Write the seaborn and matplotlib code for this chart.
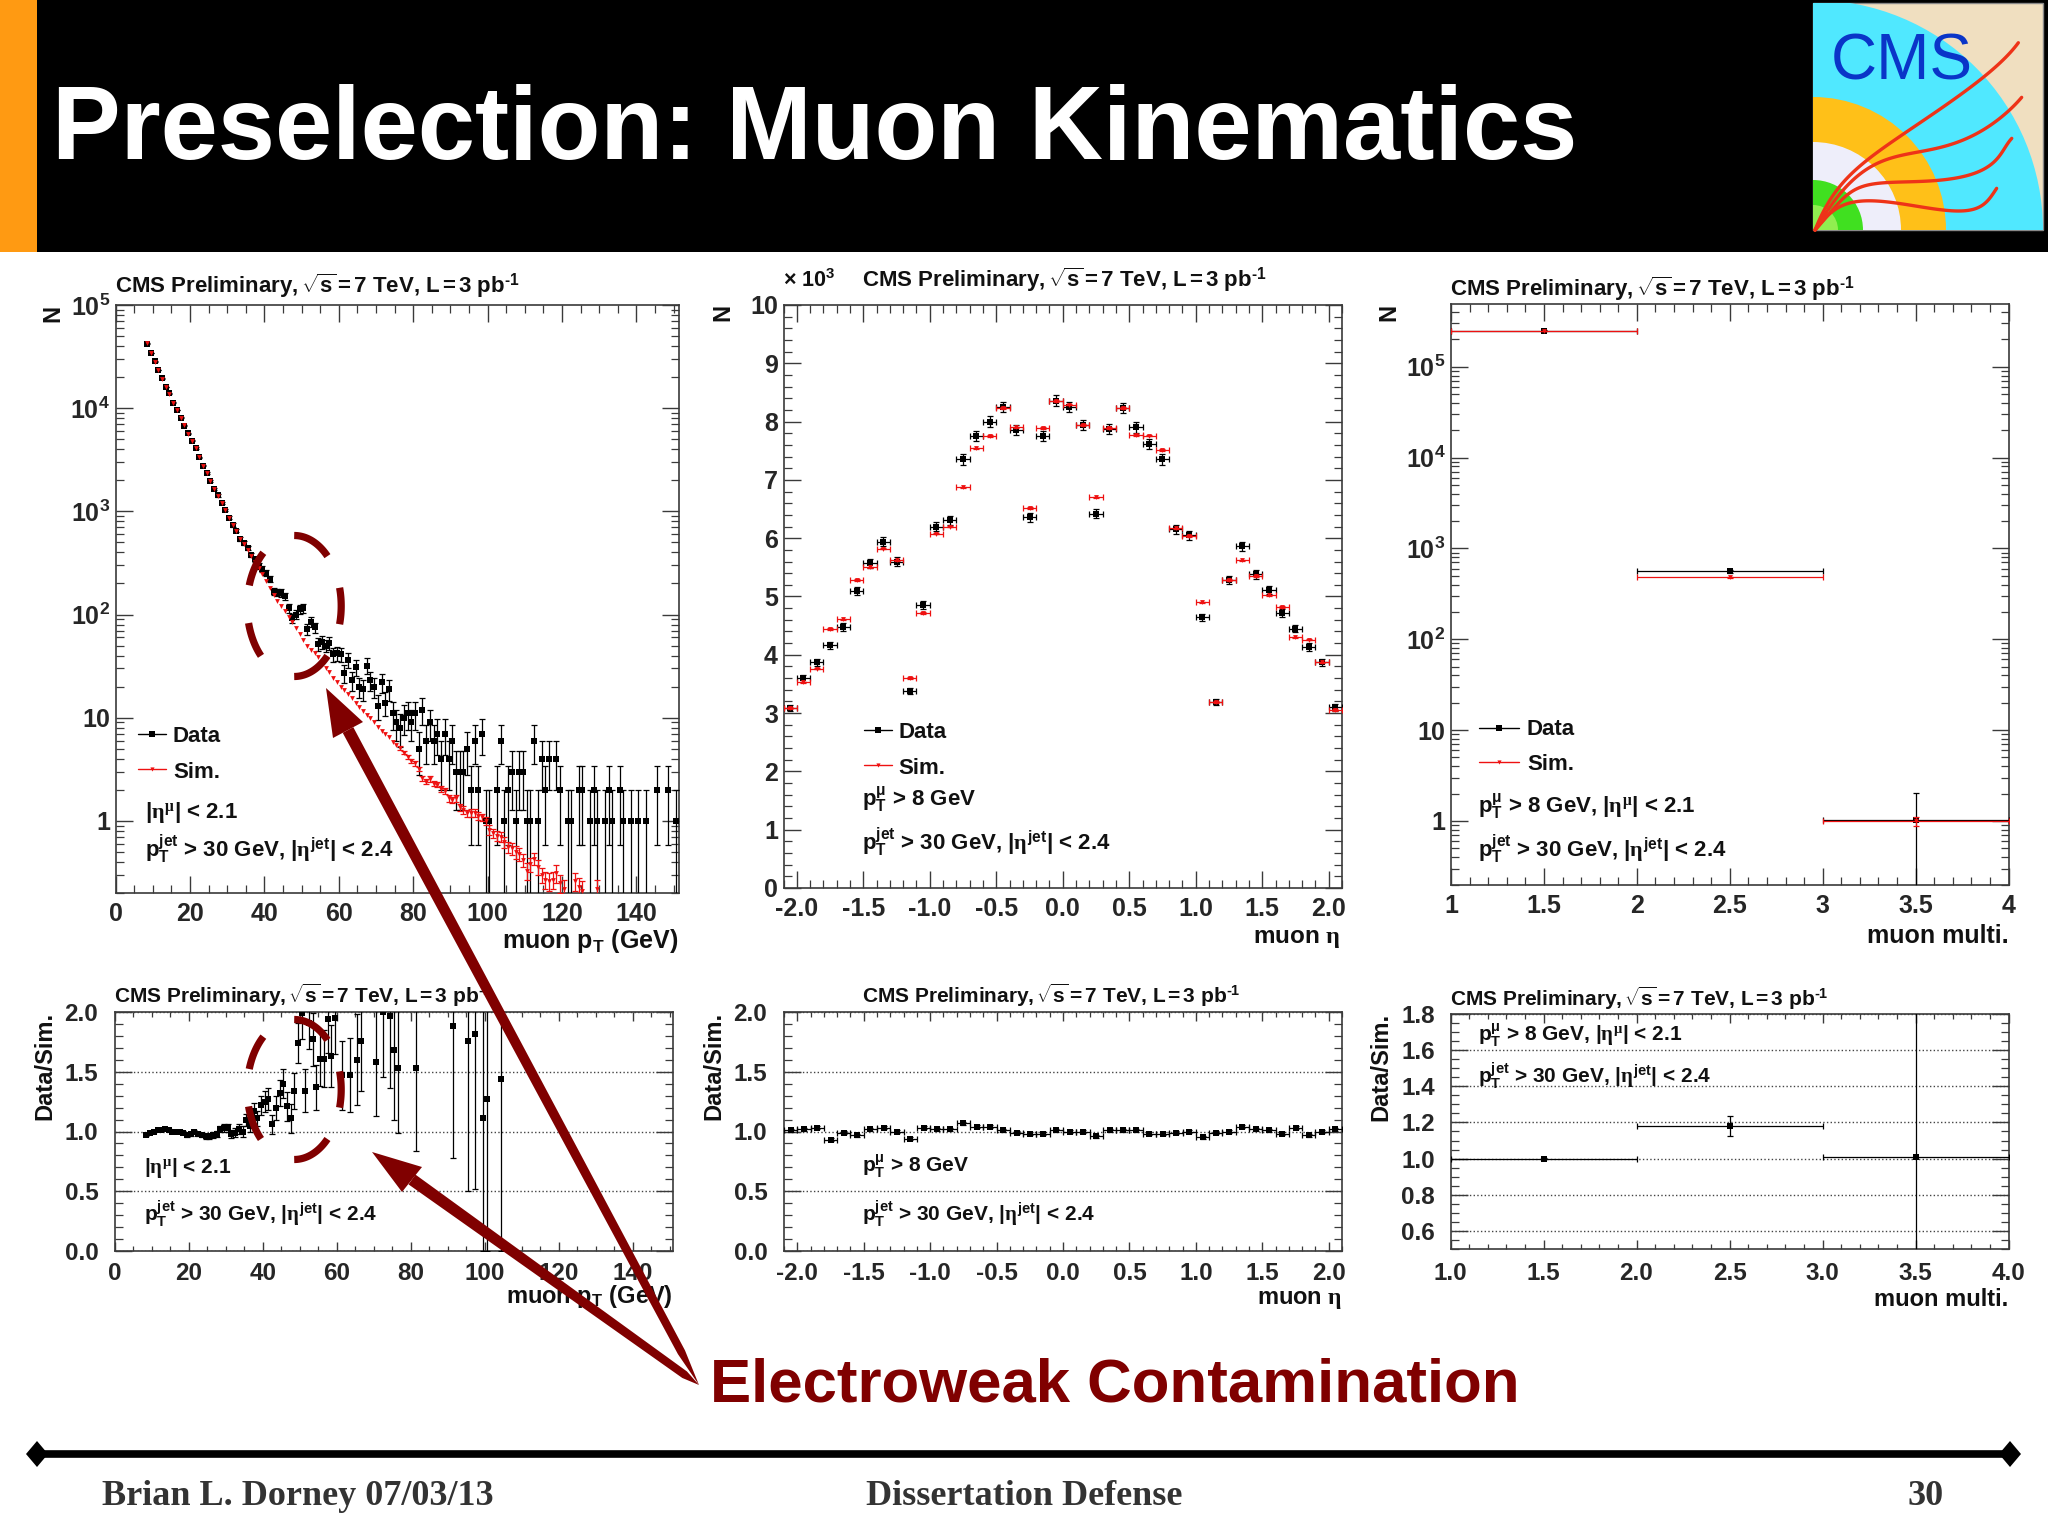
import numpy as np
import matplotlib
matplotlib.use("Agg")
import matplotlib.pyplot as plt
import seaborn as sns
from matplotlib.patches import Polygon, Rectangle, Wedge
from matplotlib.ticker import LogLocator, MultipleLocator, NullFormatter

# muon pT, data
pt_x = [8.5, 9.5, 10.5, 11.5, 12.5, 13.5, 14.5, 15.5, 16.5, 17.5, 18.5, 19.5, 20.5, 21.5, 22.5, 23.5, 24.5,
        25.5, 26.5, 27.5, 28.5, 29.5, 30.5, 31.5, 32.5, 33.5, 34.5, 35.5, 36.5, 37.5, 38.5, 39.5, 40.5, 41.5,
        42.5, 43.5, 44.5, 45.5, 46.5, 47.5, 48.5, 49.5, 50.5, 51.5, 52.5, 53.5, 54.5, 55.5, 56.5, 57.5, 58.5,
        59.5, 60.5, 61.5, 62.5, 63.5, 64.5, 65.5, 66.5, 67.5, 68.5, 69.5, 70.5, 71.5, 72.5, 73.5, 74.5, 75.5,
        76.5, 77.5, 78.5, 79.5, 80.5, 81.5, 82.5, 83.5, 84.5, 85.5, 86.5, 87.5, 88.5, 89.5, 90.5, 91.5, 92.5,
        93.5, 94.5, 95.5, 96.5, 97.5, 98.5, 99.5, 100.5, 102.5, 103.5, 104.5, 105.5, 106.5, 107.5, 108.5,
        109.5, 110.5, 111.5, 112.5, 113.5, 114.5, 115.5, 116.5, 118.5, 119.5, 121.5, 122.5, 124.5, 125.5,
        127.5, 128.5, 129.5, 131.5, 132.5, 133.5, 135.5, 136.5, 138.5, 140.5, 142.5, 145.5, 148.5, 150.5]
pt_data = [42300, 34100, 28400, 23400, 19400, 16000, 13900, 11300, 9600, 8070, 6780, 5700, 4830, 4100, 3340,
           2780, 2340, 1960, 1650, 1430, 1210, 1030, 867, 736, 650, 541, 489, 441, 378, 345, 296, 278, 254, 220,
           166, 164, 162, 151, 115, 92, 100, 113, 115, 72, 85, 75, 52, 54, 50, 53, 41, 42, 41, 27, 36, 23, 31,
           20, 19, 32, 23, 20, 13, 22, 14, 19, 11, 9, 8, 10, 11, 9, 11, 5, 12, 6, 9, 6, 7, 4, 7, 4, 6, 3, 3, 3,
           5, 2, 6, 2, 7, 1, 1, 2, 6, 1, 2, 3, 1, 3, 3, 1, 1, 6, 1, 4, 2, 4, 4, 2, 1, 1, 2, 2, 1, 2, 1, 1, 2, 1,
           2, 1, 1, 1, 1, 2, 2, 1]
pt_data_err = [206, 185, 169, 153, 139, 126, 118, 106, 98, 90, 82, 75, 69, 64, 58, 53, 48, 44, 41, 38, 35, 32,
               29, 27, 25, 23, 22, 21, 19, 19, 17, 17, 16, 15,
               13, 13, 13, 12, 11, 10, 10, 11, 11, 8.5, 9.2, 8.7, 7.2, 7.3, 7.1, 7.3, 6.4, 6.5, 6.4, 5.2, 6, 4.8,
               5.6, 4.5, 4.4, 5.7, 4.8, 4.5, 3.6, 4.7, 3.7, 4.4, 3.32, 3, 2.83, 3.16, 3.32, 3, 3.32, 2.24, 3.46,
               2.45, 3, 2.45, 2.65, 2, 2.65, 2, 2.45, 1.73, 1.73, 1.73, 2.24, 1.41, 2.45, 1.41, 2.65, 1, 1, 1.41,
               2.45, 1, 1.41, 1.73, 1, 1.73, 1.73, 1, 1, 2.45, 1, 2, 1.41, 2, 2, 1.41, 1, 1, 1.41, 1.41, 1, 1.41,
               1, 1, 1.41, 1, 1.41, 1, 1, 1, 1, 1.41, 1.41, 1]

# muon pT, simulation
sim_pt_x = [8.5, 9.5, 10.5, 11.5, 12.5, 13.5, 14.5, 15.5, 16.5, 17.5, 18.5, 19.5, 20.5, 21.5, 22.5, 23.5, 24.5,
            25.5, 26.5, 27.5, 28.5, 29.5, 30.5, 31.5, 32.5, 33.5, 34.5, 35.5, 36.5, 37.5, 38.5, 39.5, 40.5, 41.5,
            42.5, 43.5, 44.5, 45.5, 46.5, 47.5, 48.5, 49.5, 50.5, 51.5, 52.5, 53.5, 54.5, 55.5, 56.5, 57.5, 58.5,
            59.5, 60.5, 61.5, 62.5, 63.5, 64.5, 65.5, 66.5, 67.5, 68.5, 69.5, 70.5, 71.5, 72.5, 73.5, 74.5, 75.5,
            76.5, 77.5, 78.5, 79.5, 80.5, 81.5, 82.5, 83.5, 84.5, 85.5, 86.5, 87.5, 88.5, 89.5, 90.5, 91.5, 92.5,
            93.5, 94.5, 95.5, 96.5, 97.5, 98.5, 99.5, 100.5, 101.5, 102.5, 103.5, 104.5, 105.5, 106.5, 107.5,
            108.5, 109.5, 110.5, 111.5, 112.5, 113.5, 114.5, 115.5, 116.5, 117.5, 118.5, 119.5, 120.5, 123.5,
            124.5, 125.5, 129.5]
sim_pt = [42500, 34300, 28300, 23300, 19300, 16100, 13800, 11350, 9650, 8050, 6800, 5680, 4800, 4120, 3350, 2780,
          2330, 1950, 1640, 1420, 1200, 1020, 860, 730, 640, 535, 480, 425,
          370, 325, 285, 245, 210, 180, 155, 135, 122, 107,
          95, 84, 74, 65, 57, 50, 45, 42, 39, 33,
          30, 27.5, 24.5, 22, 20, 18.5, 17, 15.5, 14, 12.8,
          11.6, 10.7, 10, 9, 8.2, 7.4, 6.9, 6.5, 5.8, 5.4,
          5.1, 4.6, 4.2, 3.8, 3.6, 3.2, 2.6, 2.4, 2.55, 2.3,
          2.25, 2.05, 1.95, 1.65, 1.6, 1.65, 1.35, 1.28, 1.18, 1.2,
          1.2, 1.12, 1.08, 1.0, .82, .76, .72, .7, .62, .56,
          .54, .5, .48, .42, .33, .38, .43, .36, .3, .27,
          .26, .27, .31, .25, .22, .26, .23, .21, .22]
sim_pt_err = [120, 110, 100, 90, 80, 70, 65, 60, 55, 50, 45, 40, 38, 34, 30, 28, 25, 22, 20, 18, 17, 15, 14, 12,
              11, 10, 9, 8,
              4, 3.5, 3, 2.7, 2.4, 2.1, 1.9, 1.7, 1.5, 1.4,
              1.3, 1.2, 1.1, 1, .95, .85, .8, .75, .7, .65,
              .6, .55, .5, .48, .45, .42, .4, .38, .35, .33,
              .31, .3, .28, .27, .25, .24, .23, .22, .21, .2,
              .19, .18, .18, .17, .17, .16, .15, .14, .15, .14,
              .14, .13, .13, .12, .12, .12, .11, .11, .1, .1,
              .1, .1, .09, .09, .09, .08, .08, .08, .08, .07,
              .07, .07, .07, .06, .06, .06, .06, .06, .05, .05,
              .05, .05, .06, .05, .05, .05, .05, .05, .05]

# muon pT, ratio
ratio_pt_x = [8.5, 9.5, 10.5, 11.5, 12.5, 13.5, 14.5, 15.5, 16.5, 17.5, 18.5, 19.5, 20.5, 21.5, 22.5, 23.5, 24.5,
              25.5, 26.5, 27.5, 28.5, 29.5, 30.5, 31.5, 32.5, 33.5, 34.5,
              35.5, 36.5, 37.5, 38.5, 39.5, 40.5, 41.5, 42.5, 43.5, 44.5,
              45.5, 46.5, 47.5, 48.5, 49.5, 50.5, 51.5, 52.5, 53.5, 54.5,
              55.5, 56.5, 57.5, 58.5, 59.5, 61.5, 63.5, 65.5, 66.5, 70.5,
              72.5, 74.5, 75.5, 76.5, 81.5, 91.5, 95.5, 97.5, 99.5, 100.5, 104.5]
ratio_pt = [.97, .99, 1.0, 1.01, 1.01, 1.02, 1.01, 1.0, 1.0, 1.0, .99, .97, .98, 1.0, .98, .97, .96, .96, .97, .98,
            1.02, 1.03, 1.03, .98, .99, 1.02, 1.0,
            1.10, 1.05, 1.17, 1.11, 1.22, 1.25, 1.27, 1.06, 1.20, 1.32,
            1.40, 1.21, 1.11, 1.34, 1.74, 1.99, 1.34, 1.91, 1.77, 1.37,
            1.61, 1.61, 1.94, 1.63, 1.95, 1.47, 1.47, 1.60, 1.76, 1.58,
            2.0, 1.97, 1.68, 1.53, 1.53, 1.88, 1.76, 1.82, 1.11, 1.27, 1.44]
ratio_pt_err = [.005, .006, .006, .007, .007, .008, .008, .009, .01, .011, .012, .013, .014, .015, .017, .018, .02,
                .022, .024, .026, .028, .03, .033, .036, .038, .04, .043,
                .05, .05, .07, .06, .08, .09, .09, .08, .10, .11,
                .12, .12, .12, .15, .17, .22, .18, .22, .22, .19,
                .23, .24, .28, .26, .3, .29, .31, .38, .42, .45,
                .54, .61, .58, .54, .69, 1.10, 1.26, 1.30, 1.11, 1.27, 1.44]

# muon eta, thousands of muons
eta_x = [-2.05, -1.95, -1.85, -1.75, -1.65, -1.55, -1.45, -1.35, -1.25, -1.15, -1.05, -0.95, -0.85, -0.75,
         -0.65, -0.55, -0.45, -0.35, -0.25, -0.15, -0.05, 0.05, 0.15, 0.25, 0.35, 0.45, 0.55, 0.65,
         0.75, 0.85, 0.95, 1.05, 1.15, 1.25, 1.35, 1.45, 1.55, 1.65, 1.75, 1.85, 1.95, 2.05]
eta_data = [3.09, 3.6, 3.87, 4.16, 4.48, 5.09, 5.57, 5.94, 5.60, 3.38, 4.86, 6.20, 6.31, 7.35,
            7.75, 8.0, 8.25, 7.86, 6.36, 7.75, 8.36, 8.25, 7.94, 6.42, 7.87, 8.23, 7.90, 7.62,
            7.35, 6.15, 6.05, 4.64, 3.19, 5.28, 5.86, 5.38, 5.11, 4.72, 4.45, 4.13, 3.87, 3.10]
eta_data_err = [.056, .06, .062, .064, .067, .071, .075, .077, .075, .058, .07, .079, .079, .086,
                .088, .089, .091, .089, .08, .088, .091, .091, .089, .08, .089, .091, .089, .087,
                .086, .078, .078, .068, .056, .073, .077, .073, .071, .069, .067, .064, .062, .056]
eta_sim = [3.09, 3.53, 3.76, 4.44, 4.61, 5.28, 5.50, 5.82, 5.62, 3.60, 4.72, 6.08, 6.20, 6.87,
           7.54, 7.75, 8.23, 7.90, 6.52, 7.89, 8.35, 8.29, 7.94, 6.70, 7.89, 8.23, 7.77, 7.76,
           7.51, 6.17, 6.04, 4.90, 3.19, 5.28, 5.62, 5.35, 5.02, 4.82, 4.30, 4.26, 3.87, 3.05]
eta_ratio = [1.01, 1.02, 1.03, 0.93, 0.99, 0.97, 1.02, 1.03, 1.0, 0.94, 1.03, 1.02, 1.02, 1.07,
             1.04, 1.04, 1.01, 0.99, 0.98, 0.98, 1.01, 1.0, 1.0, 0.96, 1.01, 1.01, 1.01, 0.98,
             0.98, 0.99, 1.0, 0.95, 0.99, 1.0, 1.04, 1.02, 1.01, 0.98, 1.03, 0.97, 1.0, 1.02]

# muon multiplicity
multi_x = [1.5, 2.5, 3.5]
multi_data = [250000, 559, 1.02]
multi_data_err = [500, 24, 1.0]
multi_sim = [250000, 480, 1.0]
multi_sim_err = [300, 8, 0.12]
multi_ratio = [1.0, 1.18, 1.01]
multi_ratio_err = [0.002, 0.053, 1.0]

DARK_RED = "#800000"
FRAME = "#3a3a3a"
W, H = 2048, 1535

sns.set_theme(style="ticks")
plt.rcParams["font.family"] = ["Liberation Sans", "DejaVu Sans"]
plt.rcParams["font.weight"] = "bold"
plt.rcParams["mathtext.fontset"] = "custom"
plt.rcParams["mathtext.rm"] = "Liberation Sans:bold"
plt.rcParams["mathtext.bf"] = "Liberation Sans:bold"
plt.rcParams["mathtext.it"] = "Liberation Serif"
plt.rcParams["text.color"] = "#111111"

TITLE = "CMS Preliminary,$\\,\\sqrt{\\mathrm{s}}\\,$=$\\,$7 TeV, L$\\,$=$\\,$3 pb$^{\\mathrm{\u20101}}$"
ETA_CUT = r"$|\eta^{\mu}|$ < 2.1"
PT_CUT = r"$\mathrm{p_T^{\mu}}$ > 8 GeV"
BOTH_CUT = r"$\mathrm{p_T^{\mu}}$ > 8 GeV, $|\eta^{\mu}|$ < 2.1"
JET_CUT = r"$\mathrm{p_T^{jet}}$ > 30 GeV, $|\eta^{\mathrm{jet}}|$ < 2.4"
DECADES = [1, 10, 100, 1000, 10000, 100000]
DECADE_LABELS = ["1", "10", r"$\mathrm{10^{2}}$", r"$\mathrm{10^{3}}$", r"$\mathrm{10^{4}}$", r"$\mathrm{10^{5}}$"]


def panel(left, right, top, bottom, xlim, ylim, xstep, xminor, ystep=None, yminor=None, log=False,
          short_x=False, pad_x=6.5, pad_y=4, size=18):
    ax = fig.add_axes([left / W, 1 - bottom / H, (right - left) / W, (bottom - top) / H])
    if log:
        ax.set_yscale("log", nonpositive="clip")
        ax.set_yticks(DECADES, DECADE_LABELS)
        ax.yaxis.set_minor_locator(LogLocator(base=10, subs=range(2, 10), numticks=20))
        ax.yaxis.set_minor_formatter(NullFormatter())
    else:
        ax.yaxis.set_major_locator(MultipleLocator(ystep))
        ax.yaxis.set_minor_locator(MultipleLocator(yminor))
        ax.yaxis.grid(True, which="major", ls=":", lw=1.0, color="#444444")
    ax.xaxis.set_major_locator(MultipleLocator(xstep))
    ax.xaxis.set_minor_locator(MultipleLocator(xminor))
    ax.set_xlim(*xlim)
    ax.set_ylim(*ylim)
    ax.tick_params(axis="y", which="major", direction="in", left=True, right=True, length=12, width=1.0,
                   color=FRAME, pad=pad_y, labelsize=size)
    ax.tick_params(axis="y", which="minor", direction="in", left=True, right=True, length=6, width=0.9,
                   color=FRAME)
    ax.tick_params(axis="x", which="major", direction="in", top=True, bottom=True,
                   length=6.5 if short_x else 12, width=1.0, color=FRAME, pad=pad_x, labelsize=size)
    ax.tick_params(axis="x", which="minor", direction="in", top=True, bottom=True,
                   length=3.5 if short_x else 6, width=0.9, color=FRAME)
    for spine in ax.spines.values():
        spine.set_visible(True)
        spine.set_color(FRAME)
        spine.set_linewidth(1.2)
    return ax


def points(ax, x, y, yerr, xerr=None, sim=False, every=1):
    color = "#ee1111" if sim else "black"
    ax.errorbar(x, y, yerr=yerr, xerr=xerr, fmt="none", ecolor=color, elinewidth=0.9, capsize=2.4,
                capthick=0.9, errorevery=every, zorder=4 if sim else 3)
    sns.scatterplot(x=x, y=y, ax=ax, marker="v" if sim else "s", color=color, linewidth=0,
                    s=12 if sim else 22, legend=False, zorder=4.5 if sim else 3.5)


fig = plt.figure(figsize=(W / 100, H / 100), dpi=100, facecolor="white")

# top row
ax1 = panel(115.5, 678.5, 305, 893, (0, 151.3), (0.2, 1e5), 20, 5, log=True)
points(ax1, pt_x, pt_data, pt_data_err)
# below 76 GeV the simulation bars are smaller than the marker
points(ax1, sim_pt_x, sim_pt, sim_pt_err, sim=True, every=(68, 1))

ax2 = panel(783.5, 1342, 305, 888, (-2.1, 2.1), (0, 10), 0.5, 0.1, 1, 0.2)
ax2.grid(False)
points(ax2, eta_x, eta_data, eta_data_err, xerr=0.05)
points(ax2, eta_x, eta_sim, 0.012, xerr=0.05, sim=True)
ax2.xaxis.set_major_formatter(lambda v, pos: f"{v:.1f}")

ax3 = panel(1451, 2008.5, 304, 884.5, (1, 4), (0.2, 4.9e5), 0.5, 0.1, log=True, pad_x=7)
points(ax3, multi_x, multi_data, multi_data_err, xerr=0.5)
points(ax3, multi_x, multi_sim, multi_sim_err, xerr=0.5, sim=True)
ax3.set_xticks([1, 1.5, 2, 2.5, 3, 3.5, 4], ["1", "1.5", "2", "2.5", "3", "3.5", "4"])

# bottom row
ax4 = panel(115, 672.5, 1012, 1251, (0, 150.8), (0, 2), 20, 5, 0.5, 0.1, short_x=True, pad_x=8, pad_y=12, size=17.5)
points(ax4, ratio_pt_x, ratio_pt, ratio_pt_err)

ax5 = panel(784, 1342, 1012, 1251, (-2.1, 2.1), (0, 2), 0.5, 0.1, 0.5, 0.1, short_x=True, pad_x=8, pad_y=12, size=17.5)
points(ax5, eta_x, eta_ratio, 0.012, xerr=0.05)
ax5.xaxis.set_major_formatter(lambda v, pos: f"{v:.1f}")

ax6 = panel(1450.5, 2008.5, 1014, 1249, (1, 4), (0.5, 1.8), 0.5, 0.1, 0.2, 0.05, short_x=True, pad_x=9, pad_y=11,
            size=17.5)
points(ax6, multi_x, multi_ratio, multi_ratio_err, xerr=0.5)
ax6.xaxis.set_major_formatter(lambda v, pos: f"{v:.1f}")
ax6.yaxis.set_major_formatter(lambda v, pos: f"{v:.1f}")

for ax in (ax4, ax5):
    ax.yaxis.set_major_formatter(lambda v, pos: f"{v:.1f}")

# everything drawn in slide pixels sits on one full-figure axes
ov = fig.add_axes([0, 0, 1, 1], zorder=10)
ov.set_xlim(0, W)
ov.set_ylim(H, 0)
ov.axis("off")


def note(x, y, s, size=16, **kw):
    kw.setdefault("va", "baseline")
    ov.text(x, y, s, fontsize=size, zorder=3, **kw)


def legend_key(x0, x1, y, sim=False):
    color = "#ee1111" if sim else "black"
    ov.plot([x0, x1], [y, y], color=color, lw=1.0, zorder=3)
    ov.plot([(x0 + x1) / 2], [y], marker="v" if sim else "s", ms=3 if sim else 4.5, color=color, mew=0, zorder=3)


# panel texts
note(115, 293, TITLE)
note(53, 313, "N", size=17, rotation=90, ha="center", va="center")
legend_key(138, 166, 733.5)
legend_key(138, 166, 769, sim=True)
note(173, 742, "Data")
note(173, 778, "Sim.")
note(145, 818, ETA_CUT)
note(145, 857, JET_CUT)
note(678, 948, r"muon $\mathrm{p_T}$ (GeV)", size=18, ha="right")

note(783, 287, r"$\times$ $\mathrm{10^{3}}$", size=15.5)
note(862, 287, TITLE)
note(723, 312, "N", size=17, rotation=90, ha="center", va="center")
legend_key(864, 892, 730)
legend_key(864, 892, 765, sim=True)
note(898, 738, "Data")
note(898, 774, "Sim.")
note(862, 806, PT_CUT)
note(862, 850, JET_CUT)
note(1341, 943, r"muon $\eta$", size=17.5, ha="right")

note(1450, 296, TITLE)
note(1389, 312, "N", size=17, rotation=90, ha="center", va="center")
legend_key(1479, 1519, 727.5)
legend_key(1479, 1519, 762, sim=True)
note(1527, 735, "Data")
note(1527, 770, "Sim.")
note(1478, 813, BOTH_CUT)
note(1478, 857, JET_CUT)
note(2009, 943, "muon multi.", size=18, ha="right")

note(114, 1003, TITLE, size=15)
note(45, 1012, "Data/Sim.", size=17, rotation=90, ha="center", va="top")
note(144, 1173, ETA_CUT, size=15)
note(144, 1221, JET_CUT, size=15)
note(673, 1303, r"muon $\mathrm{p_T}$ (GeV)", size=17, ha="right")

note(862, 1003, TITLE, size=15)
note(714, 1012, "Data/Sim.", size=17, rotation=90, ha="center", va="top")
note(862, 1172, PT_CUT, size=15)
note(862, 1221, JET_CUT, size=15)
note(1342, 1304, r"muon $\eta$", size=17, ha="right")

note(1450, 1006, TITLE, size=15)
note(1381, 1013, "Data/Sim.", size=17, rotation=90, ha="center", va="top")
note(1478, 1041, BOTH_CUT, size=15)
note(1478, 1083, JET_CUT, size=15)
note(2008, 1306, "muon multi.", size=17, ha="right")

# header
ov.add_patch(Rectangle((0, 0), W, 252, color="black", lw=0, zorder=1))
ov.add_patch(Rectangle((0, 0), 37, 252, color="#ff9a12", lw=0, zorder=1.5))
ov.text(52, 159, "Preselection: Muon Kinematics", color="white", fontsize=74.1, va="baseline", zorder=2)

# CMS logo, quarter rings around the bottom left corner
lx, ly = 1813, 230
box = Rectangle((lx, 3), 230, 227, facecolor="#f0dfc0", edgecolor="#888888", lw=1, zorder=2)
ov.add_patch(box)
for radius, ring in zip((230, 133, 88, 50, 25), ("#50e8ff", "#ffc018", "#eeeefa", "#40e020", "#90ee50")):
    wedge = Wedge((lx, ly), radius, 270, 360, color=ring, lw=0, zorder=2.1)
    ov.add_patch(wedge)
    wedge.set_clip_path(box)
ov.text(1831, 80, "CMS", color="#0a35c8", fontsize=46, fontweight="normal", va="baseline", zorder=2.3)
tracks = [
    [(105, 690), (180, 560), (270, 470), (380, 400), (500, 310), (620, 225), (715, 128)],
    [(105, 690), (190, 570), (290, 490), (400, 460), (520, 430), (640, 370), (725, 292)],
    [(105, 690), (210, 580), (300, 548), (440, 545), (560, 525), (650, 480), (695, 415)],
    [(105, 690), (180, 620), (280, 602), (400, 618), (520, 632), (600, 620), (650, 565)],
]
for track in tracks:
    pts = np.array(track) / 3 + [1780, 0]
    knots = np.linspace(0, 1, len(pts))
    fine = np.linspace(0, 1, 80)
    ov.plot(np.polyval(np.polyfit(knots, pts[:, 0], 5), fine), np.polyval(np.polyfit(knots, pts[:, 1], 5), fine),
            color="#ee3318", lw=2.4, zorder=2.4)

# dashed ellipses around the excess
for cy, b in ((606, 70.5), (1089.5, 70)):
    for t0, t1 in ((45, 90), (-15, 15), (-90, -45), (194, 225), (131, 163)):
        t = np.radians(np.linspace(t0, t1, 30))
        ov.plot(294.2 + 47 * np.cos(t), cy - b * np.sin(t), color=DARK_RED, lw=5.2, solid_capstyle="butt", zorder=5)


def arrow(tip, corner_a, corner_b, tail):
    tip, corner_a, corner_b, tail = map(np.array, (tip, corner_a, corner_b, tail))
    neck = (corner_a + corner_b) / 2
    across = np.array([-(neck - tail)[1], (neck - tail)[0]], dtype=float)
    across /= np.hypot(*across)
    start = tail + (neck - tail) * 0.05
    ov.add_patch(Polygon([tail, start + across * 4, neck + across * 6, neck - across * 6, start - across * 4],
                         color=DARK_RED, lw=0, zorder=5))
    ov.add_patch(Polygon([tip, corner_a, corner_b], color=DARK_RED, lw=0, zorder=5))


arrow((326, 688), (333, 738), (363, 722), (699, 1385))
arrow((372, 1152), (422, 1167), (402, 1192), (699, 1385))
ov.text(710, 1402, "Electroweak Contamination", color=DARK_RED, fontsize=44.5, va="baseline", zorder=6)

# footer
ov.plot([37, 2010], [1454, 1454], color="black", lw=5.5, solid_capstyle="butt", zorder=2)
for cx in (37, 2010):
    ov.add_patch(Polygon([(cx - 11, 1454), (cx, 1441), (cx + 11, 1454), (cx, 1467)], color="black", lw=0, zorder=2))
for x, text, align in ((102, "Brian L. Dorney 07/03/13", "left"), (1024, "Dissertation Defense", "center"),
                       (1944, "30", "right")):
    ov.text(x, 1505, text, family="Liberation Serif", fontsize=26, color="#333333", ha=align, va="baseline", zorder=2)

fig.savefig("out.png", dpi=100)
